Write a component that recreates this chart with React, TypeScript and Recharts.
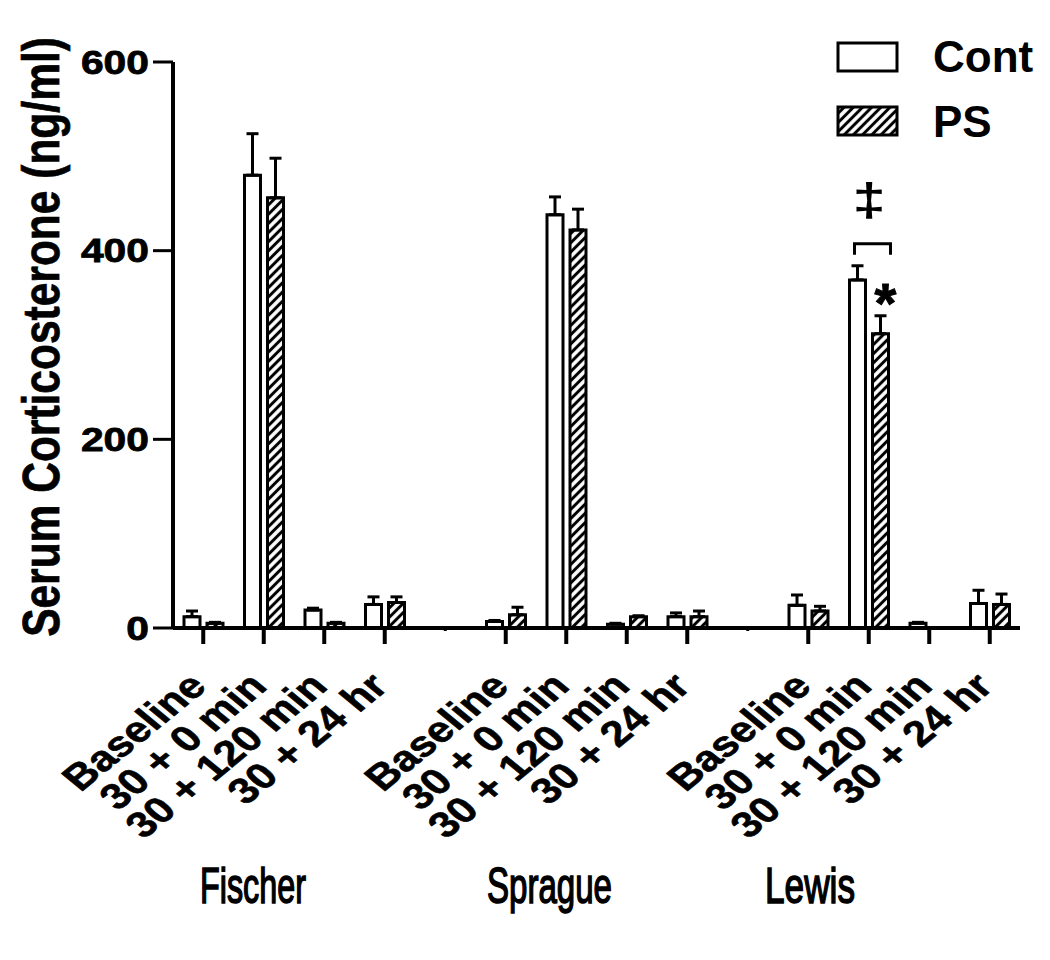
import React from 'react'
import { BarChart, Bar, XAxis, YAxis, ErrorBar, LabelList } from 'recharts'

const strains = ['Fischer', 'Sprague', 'Lewis']
const timepoints = ['Baseline', '30 + 0 min', '30 + 120 min', '30 + 24 hr']

// one value per strain x timepoint, in the order above
const contMean = [12, 480, 19, 25, 7, 438, 4, 12, 24, 369, 5, 26]
const contSem = [6, 44, 2, 8, 1, 19, 1, 4, 11, 15, 1, 14]
const psMean: (number | null)[] = [5, 456, 5, 27, 14, 422, 12, 12, 18, 312, null, 25]
const psSem = [1, 42, 1, 6, 8, 22, 1, 6, 5, 19, 0, 11]

const yTicks = [0, 200, 400, 600]
const daggerCells = [9] // ‡ Cont vs PS
const starCells = [9] // * PS vs Cont

const FONT = '"Liberation Sans", Arial, sans-serif'
const TOP = 62
const XAXIS_H = 332
const HEIGHT = 960
const PPU = (HEIGHT - TOP - XAXIS_H) / 600 // px per ng/ml
const STRETCH = 1.2 // the figure's lettering is drawn a little wide

type Row = {
  key: string
  label: string
  cont?: number
  contErr?: [number, number]
  ps?: number | null
  psErr?: [number, number]
  daggerSem?: number
  starSem?: number
}

const data: Row[] = []
strains.forEach((s, si) => {
  timepoints.forEach((t, ti) => {
    const i = si * timepoints.length + ti
    const ps = psMean[i]
    data.push({
      key: `${s}|${t}`,
      label: t,
      cont: contMean[i],
      contErr: [0, contSem[i]],
      ps,
      psErr: ps == null ? undefined : [0, psSem[i]],
      daggerSem: daggerCells.includes(i) ? contSem[i] : undefined,
      starSem: starCells.includes(i) ? psSem[i] : undefined,
    })
  })
  if (si < strains.length - 1) data.push({ key: `gap${si}`, label: '' })
})

const labelByKey: Record<string, string> = {}
data.forEach(d => { labelByKey[d.key] = d.label })

const XTick = (props: any) => {
  const { x, y, payload } = props
  const label = labelByKey[payload.value]
  if (!label) {
    return <line x1={x} y1={y} x2={x} y2={y + 3} stroke="#000" strokeWidth={3} />
  }
  return (
    <g>
      <line x1={x} y1={y} x2={x} y2={y + 16} stroke="#000" strokeWidth={4} />
      <text
        x={0}
        y={0}
        transform={`translate(${x + 5}, ${y + 60}) scale(${STRETCH + 0.02}, 1) rotate(-45)`}
        textAnchor="end"
        fontFamily={FONT}
        fontWeight={700}
        fontSize={36}
        fill="#000"
        stroke="#000"
        strokeWidth={0.6}
      >
        {label}
      </text>
    </g>
  )
}

const YTick = (props: any) => {
  const { x, y, payload } = props
  return (
    <text
      x={0}
      y={0}
      transform={`translate(${x}, ${y}) scale(${STRETCH}, 1)`}
      textAnchor="end"
      dominantBaseline="central"
      fontFamily={FONT}
      fontWeight={700}
      fontSize={34}
      fill="#000"
      stroke="#000"
      strokeWidth={0.8}
    >
      {payload.value}
    </text>
  )
}

const BAR = 16
const GAP = 7

const renderDagger = (props: any) => {
  const { x, y, width, value } = props
  if (value == null) return null
  const errTop = y - value * PPU
  const by = errTop - 22
  const x1 = x + width / 2 - 3
  const x2 = x + width + GAP + width + 2
  const cx = x + width + GAP / 2
  return (
    <g>
      <path d={`M${x1},${by + 11} V${by} H${x2} V${by + 11}`} fill="none" stroke="#000" strokeWidth={3} />
      <text
        x={0}
        y={0}
        transform={`translate(${cx}, ${by - 28}) scale(1.3, 1)`}
        textAnchor="middle"
        fontFamily={FONT}
        fontWeight={700}
        fontSize={46}
        fill="#000"
      >
        ‡
      </text>
    </g>
  )
}

const renderStar = (props: any) => {
  const { x, y, width, value } = props
  if (value == null) return null
  const errTop = y - value * PPU
  return (
    <text
      x={x + width / 2 + 5}
      y={errTop + 6}
      textAnchor="middle"
      fontFamily={FONT}
      fontWeight={700}
      fontSize={56}
      fill="#000"
      stroke="#000"
      strokeWidth={1}
    >
      *
    </text>
  )
}

export default function App() {
  return (
    <div style={{ position: 'absolute', left: 0, top: 0, width: 1050, height: 960, background: '#fff' }}>
      <BarChart
        width={1050}
        height={HEIGHT}
        data={data}
        margin={{ top: TOP, right: 30, bottom: 0, left: 0 }}
        barSize={BAR}
        barGap={GAP}
      >
        <XAxis
          dataKey="key"
          height={XAXIS_H}
          interval={0}
          tick={<XTick />}
          tickLine={false}
          tickSize={0}
          tickMargin={0}
          axisLine={{ stroke: '#000', strokeWidth: 4 }}
        />
        <YAxis
          width={173}
          domain={[0, 600]}
          ticks={yTicks}
          interval={0}
          tickSize={20}
          tickMargin={4}
          tick={<YTick />}
          tickLine={{ stroke: '#000', strokeWidth: 3 }}
          axisLine={{ stroke: '#000', strokeWidth: 4 }}
        />
        <Bar dataKey="cont" name="Cont" fill="#fff" stroke="#000" strokeWidth={3} isAnimationActive={false}>
          <ErrorBar dataKey="contErr" direction="y" width={6} stroke="#000" strokeWidth={3} />
          <LabelList dataKey="daggerSem" content={renderDagger} />
        </Bar>
        <Bar dataKey="ps" name="PS" fill="url(#hatch)" stroke="#000" strokeWidth={3} isAnimationActive={false}>
          <ErrorBar dataKey="psErr" direction="y" width={6} stroke="#000" strokeWidth={3} />
          <LabelList dataKey="starSem" content={renderStar} />
        </Bar>
      </BarChart>

      <svg
        width={1050}
        height={960}
        style={{ position: 'absolute', left: 0, top: 0, pointerEvents: 'none' }}
        fontFamily={FONT}
      >
        <defs>
          <pattern id="hatch" patternUnits="userSpaceOnUse" width={6.5} height={6.5} patternTransform="rotate(45)">
            <rect width={6.5} height={6.5} fill="#fff" />
            <line x1={3.25} y1={0} x2={3.25} y2={6.5} stroke="#000" strokeWidth={3} />
          </pattern>
        </defs>

        <text
          x={0}
          y={0}
          transform={`translate(42, 337) scale(${STRETCH}, 1) rotate(-90)`}
          textAnchor="middle"
          dominantBaseline="central"
          fontSize={42.5}
          fontWeight={700}
          fill="#000"
          stroke="#000"
          strokeWidth={0.6}
        >
          Serum Corticosterone (ng/ml)
        </text>

        {strains.map((s, i) => (
          <text
            key={s}
            x={[200, 487, 765][i]}
            y={903}
            fontSize={50}
            fontWeight={400}
            stroke="#000"
            strokeWidth={1.6}
            textLength={[106, 125, 90][i]}
            lengthAdjust="spacingAndGlyphs"
            fill="#000"
          >
            {s}
          </text>
        ))}

        <rect x={838} y={43} width={59} height={28} fill="#fff" stroke="#000" strokeWidth={3} />
        <text x={933} y={72} fontSize={44} fontWeight={700} fill="#000">Cont</text>
        <rect x={838} y={107} width={59} height={28} fill="url(#hatch)" stroke="#000" strokeWidth={3} />
        <text x={933} y={137} fontSize={44} fontWeight={700} fill="#000">PS</text>
      </svg>
    </div>
  )
}
